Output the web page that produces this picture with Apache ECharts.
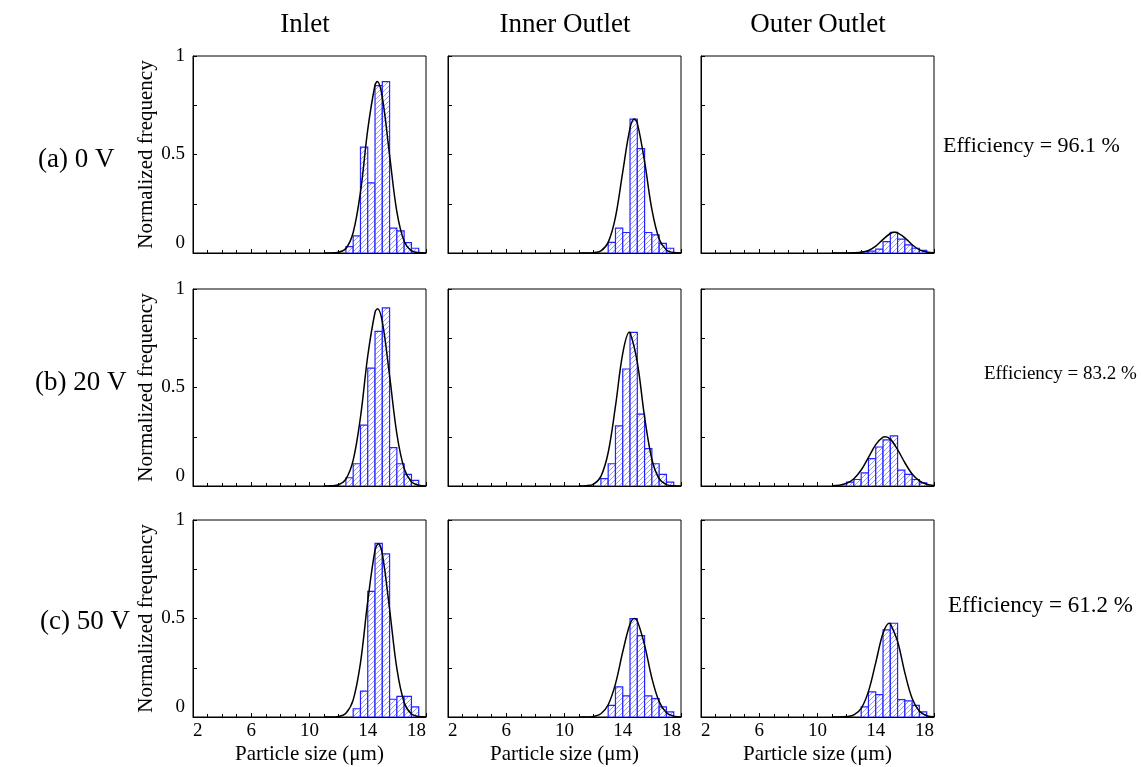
<!DOCTYPE html>
<html>
<head>
<meta charset="utf-8">
<script src="https://cdn.jsdelivr.net/npm/echarts@6/dist/echarts.min.js"></script>
<style>
html, body { margin: 0; padding: 0; background: #fff; }
#chart { width: 1141px; height: 767px; }
</style>
</head>
<body>
<div id="chart"></div>
<script>
// Labels
const columnTitles = ['Inlet', 'Inner Outlet', 'Outer Outlet'];
const rowLabels = ['(a) 0 V', '(b) 20 V', '(c) 50 V'];
const efficiencyLabels = ['Efficiency = 96.1 %', 'Efficiency = 83.2 %', 'Efficiency = 61.2 %'];
const xName = 'Particle size (\u03bcm)';
const yName = 'Normalized frequency';

// Histogram bins (left edges, µm) and bin width
const binLefts = [12, 12.5, 13, 13.5, 14, 14.5, 15, 15.5, 16, 16.5, 17, 17.5];
const binWidth = 0.5;

// Bar heights per panel (normalized frequency)
const barsInlet0V  = [0, 0.032, 0.087, 0.537, 0.356, 0.85, 0.87, 0.126, 0.112, 0.053, 0.024, 0];
const barsInner0V  = [0, 0, 0.054, 0.126, 0.104, 0.68, 0.53, 0.104, 0.092, 0.049, 0.024, 0];
const barsOuter0V  = [0, 0, 0.007, 0.01, 0.02, 0.058, 0.105, 0.07, 0.041, 0.024, 0.013, 0];
const barsInlet20V = [0, 0.042, 0.113, 0.309, 0.598, 0.785, 0.904, 0.195, 0.113, 0.059, 0.029, 0];
const barsInner20V = [0, 0.037, 0.113, 0.305, 0.594, 0.78, 0.365, 0.19, 0.113, 0.059, 0.02, 0];
const barsOuter20V = [0.02, 0.033, 0.067, 0.139, 0.198, 0.234, 0.254, 0.081, 0.059, 0.033, 0.016, 0];
const barsInlet50V = [0, 0, 0.042, 0.131, 0.638, 0.881, 0.828, 0.09, 0.105, 0.105, 0.051, 0];
const barsInner50V = [0, 0, 0.059, 0.153, 0.107, 0.50, 0.413, 0.107, 0.093, 0.051, 0.026, 0];
const barsOuter50V = [0, 0, 0.051, 0.128, 0.114, 0.442, 0.476, 0.088, 0.082, 0.059, 0.026, 0];

// Fitted curves, [size, frequency]
const curveInlet0V = [[11, 0], [11.5, 0], [12, 0.004], [12.5, 0.023], [13, 0.104], [13.5, 0.309], [14, 0.626], [14.5, 0.854], [14.65, 0.87], [15, 0.79], [15.5, 0.496], [16, 0.209], [16.5, 0.06], [17, 0.012], [17.5, 0.002], [18, 0]];
const curveInner0V = [[11, 0], [11.5, 0], [12, 0.0015], [12.5, 0.011], [13, 0.054], [13.5, 0.182], [14, 0.412], [14.5, 0.634], [14.8, 0.68], [15, 0.659], [15.5, 0.464], [16, 0.221], [16.5, 0.071], [17, 0.0155], [17.5, 0.002], [18, 0]];
const curveOuter0V = [[11, 0], [12, 0], [12.5, 0.0007], [13, 0.0035], [13.5, 0.0128], [14, 0.035], [14.5, 0.069], [15, 0.099], [15.3, 0.105], [15.5, 0.102], [16, 0.077], [16.5, 0.042], [17, 0.016], [17.5, 0.0046], [18, 0.001]];
const curveInlet20V = [[11, 0], [11.5, 0.001], [12, 0.0065], [12.5, 0.035], [13, 0.131], [13.5, 0.349], [14, 0.66], [14.5, 0.882], [14.67, 0.9], [15, 0.834], [15.5, 0.559], [16, 0.264], [16.5, 0.089], [17, 0.021], [17.5, 0.0035], [18, 0.0004]];
const curveInner20V = [[11, 0], [11.5, 0.0014], [12, 0.01], [12.5, 0.049], [13, 0.17], [13.5, 0.405], [14, 0.673], [14.45, 0.78], [14.5, 0.779], [15, 0.627], [15.5, 0.35], [16, 0.136], [16.5, 0.037], [17, 0.007], [17.5, 0.001], [18, 0]];
const curveOuter20V = [[11, 0.001], [11.5, 0.004], [12, 0.0137], [12.5, 0.037], [13, 0.081], [13.5, 0.145], [14, 0.21], [14.5, 0.248], [14.65, 0.25], [15, 0.238], [15.5, 0.185], [16, 0.118], [16.5, 0.061], [17, 0.0255], [17.5, 0.0087], [18, 0.0024]];
const curveInlet50V = [[11, 0], [11.5, 0], [12, 0.0027], [12.5, 0.019], [13, 0.087], [13.5, 0.275], [14, 0.587], [14.5, 0.847], [14.72, 0.88], [15, 0.828], [15.5, 0.547], [16, 0.245], [16.5, 0.074], [17, 0.015], [17.5, 0.002], [18, 0]];
const curveInner50V = [[11, 0], [11.5, 0], [12, 0.003], [12.5, 0.0165], [13, 0.062], [13.5, 0.168], [14, 0.331], [14.5, 0.472], [14.8, 0.5], [15, 0.487], [15.5, 0.365], [16, 0.197], [16.5, 0.078], [17, 0.022], [17.5, 0.0045], [18, 0.0006]];
const curveOuter50V = [[11, 0], [11.5, 0], [12, 0.002], [12.5, 0.011], [13, 0.044], [13.5, 0.13], [14, 0.276], [14.5, 0.425], [14.92, 0.476], [15, 0.474], [15.5, 0.383], [16, 0.224], [16.5, 0.094], [17, 0.029], [17.5, 0.0065], [18, 0.001]];

const panelBars = [
    [barsInlet0V, barsInner0V, barsOuter0V],
    [barsInlet20V, barsInner20V, barsOuter20V],
    [barsInlet50V, barsInner50V, barsOuter50V],
];
const panelCurves = [
    [curveInlet0V, curveInner0V, curveOuter0V],
    [curveInlet20V, curveInner20V, curveOuter20V],
    [curveInlet50V, curveInner50V, curveOuter50V],
];

// Layout
const gridLefts = [193, 448, 701];
const gridTops = [56, 289, 520];
const gridW = 233;
const gridH = 197;
const serif = '"Liberation Serif", "DejaVu Serif", serif';

// Hatch pattern for the bars
function makeHatch() {
    const s = 5;
    const c = document.createElement('canvas');
    c.width = s; c.height = s;
    const g = c.getContext('2d');
    g.fillStyle = '#ffffff';
    g.fillRect(0, 0, s, s);
    g.strokeStyle = '#9a9aff';
    g.lineWidth = 1;
    g.beginPath();
    g.moveTo(-1, s + 1); g.lineTo(s + 1, -1);
    g.stroke();
    return c;
}
const hatch = { image: makeHatch(), repeat: 'repeat' };

function renderBar(params, api) {
    const x0 = api.value(0);
    const h = api.value(1);
    if (!h) return null;
    const p0 = api.coord([x0, h]);
    const p1 = api.coord([x0 + binWidth, 0]);
    return {
        type: 'rect',
        shape: { x: p0[0], y: p0[1], width: p1[0] - p0[0], height: p1[1] - p0[1] },
        style: { fill: hatch, stroke: '#2323ff', lineWidth: 1.2 },
    };
}

const grids = [], xAxes = [], yAxes = [], series = [];
for (let r = 0; r < 3; r++) {
    for (let c = 0; c < 3; c++) {
        const i = r * 3 + c;
        grids.push({
            left: gridLefts[c], top: gridTops[r], width: gridW, height: gridH,
            show: true, borderColor: '#000', borderWidth: 1, backgroundColor: 'transparent',
        });
        xAxes.push({
            gridIndex: i, type: 'value', min: 2, max: 18, interval: 4,
            axisLine: { onZero: false, lineStyle: { color: '#000', width: 1 } },
            axisTick: { inside: true, length: 4, lineStyle: { color: '#000' } },
            minorTick: { show: true, splitNumber: 4, length: 3, lineStyle: { color: '#000' } },
            splitLine: { show: false },
            axisLabel: {
                show: r === 2, color: '#000', fontFamily: serif, fontSize: 19, margin: 5,
                alignMinLabel: 'left', alignMaxLabel: 'right',
            },
            name: r === 2 ? xName : '',
            nameLocation: 'middle', nameGap: 27,
            nameTextStyle: { color: '#000', fontFamily: serif, fontSize: 21 },
        });
        yAxes.push({
            gridIndex: i, type: 'value', min: 0, max: 1, interval: 0.5,
            axisLine: { lineStyle: { color: '#000', width: 1 } },
            axisTick: { inside: true, length: 4, lineStyle: { color: '#000' } },
            minorTick: { show: true, splitNumber: 2, length: 4, lineStyle: { color: '#000' } },
            splitLine: { show: false },
            axisLabel: {
                show: c === 0, color: '#000', fontFamily: serif, fontSize: 19, margin: 8,
                verticalAlignMinLabel: 'bottom',
            },
            name: c === 0 ? yName : '',
            nameLocation: 'middle', nameGap: 36,
            nameTextStyle: { color: '#000', fontFamily: serif, fontSize: 21 },
        });
        series.push({
            type: 'custom', xAxisIndex: i, yAxisIndex: i,
            renderItem: renderBar, clip: true,
            data: binLefts.map((x, k) => [x, panelBars[r][c][k]]),
            z: 2,
        });
        series.push({
            type: 'line', xAxisIndex: i, yAxisIndex: i,
            data: panelCurves[r][c], smooth: 0.35, symbol: 'none',
            lineStyle: { color: '#000', width: 1.5 },
            z: 3,
        });
    }
}

const colCenters = [305, 565, 818];
const rowLabelX = [38, 35, 40];
const rowLabelY = [160, 383, 622];
const effX = [943, 984, 948];
const effY = [146, 374, 606];
const effSize = [22, 19, 23];

const texts = [];
columnTitles.forEach((t, c) => texts.push({ text: t, x: colCenters[c], y: 25, size: 27, align: 'center' }));
rowLabels.forEach((t, r) => texts.push({ text: t, x: rowLabelX[r], y: rowLabelY[r], size: 27, align: 'left' }));
efficiencyLabels.forEach((t, r) => texts.push({ text: t, x: effX[r], y: effY[r], size: effSize[r], align: 'left' }));

const chart = echarts.init(document.getElementById('chart'), null, { renderer: 'canvas' });
chart.setOption({
    animation: false,
    backgroundColor: '#fff',
    grid: grids,
    xAxis: xAxes,
    yAxis: yAxes,
    series: series,
    graphic: texts.map(t => ({
        type: 'text',
        x: t.x, y: t.y,
        style: {
            text: t.text, fill: '#000',
            font: t.size + 'px ' + serif,
            align: t.align, verticalAlign: 'middle',
        },
    })),
});
</script>
</body>
</html>
